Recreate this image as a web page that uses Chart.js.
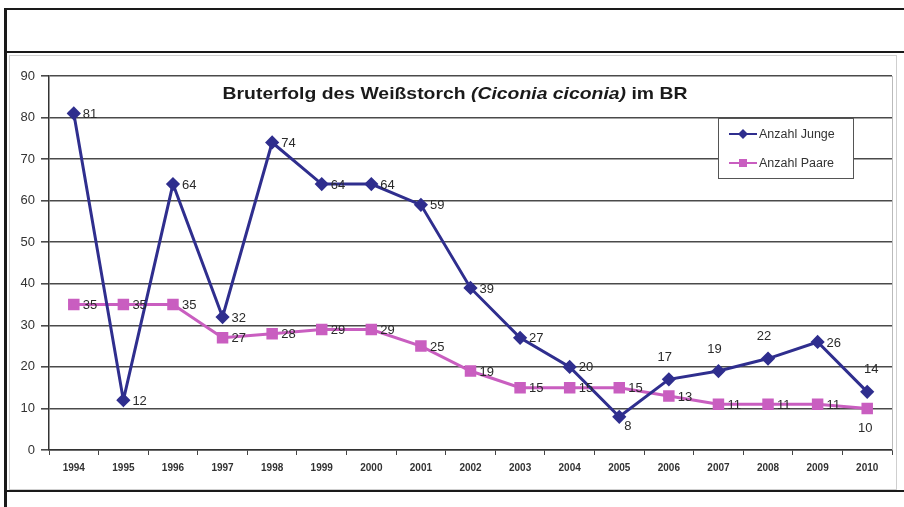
<!DOCTYPE html>
<html>
<head>
<meta charset="utf-8">
<script src="https://cdn.jsdelivr.net/npm/chart.js@4/dist/chart.umd.min.js"></script>
<style>
  body { margin: 0; background: #fff; width: 904px; height: 507px; overflow: hidden; position: relative; font-family: Arial, "Liberation Sans", sans-serif; }
  .frame-left { position: absolute; left: 4px; top: 8px; width: 3px; height: 499px; background: #1a1a1a; }
  .frame-top { position: absolute; left: 4px; top: 8px; width: 900px; height: 2px; background: #1a1a1a; }
  .frame-mid { position: absolute; left: 4px; top: 51px; width: 900px; height: 2px; background: #1a1a1a; }
  .frame-bot { position: absolute; left: 4px; top: 490px; width: 900px; height: 2px; background: #1a1a1a; }
  .chart-box { position: absolute; left: 9px; top: 55px; width: 886px; height: 433px; border: 1px solid #cfcfcf; background: #fff; }
  canvas { position: absolute; left: 0; top: 0; }
</style>
</head>
<body>
<div class="frame-left"></div>
<div class="frame-top"></div>
<div class="frame-mid"></div>
<div class="chart-box"><canvas id="myChart" width="886" height="433"></canvas></div>
<div class="frame-bot"></div>
<script>
// Daten
const years = ['1994','1995','1996','1997','1998','1999','2000','2001','2002','2003','2004','2005','2006','2007','2008','2009','2010'];
const junge = [81, 12, 64, 32, 74, 64, 64, 59, 39, 27, 20, 8, 17, 19, 22, 26, 14];
const paare = [35, 35, 35, 27, 28, 29, 29, 25, 19, 15, 15, 15, 13, 11, 11, 11, 10];
const yTicks = [0, 10, 20, 30, 40, 50, 60, 70, 80, 90];

// wo die Zahl neben dem Punkt steht
const jungePlace = ['r','r','r','r','r','r','r','r','r','r','r','br','a','a','a','r','ar'];
const paarePlace = ['r','r','r','r','r','r','r','r','r','r','r','r','r','r','r','r','b'];

const navy = '#2f2e8e';
const pink = '#c95ec0';
const FONT = 'Arial, "Liberation Sans", sans-serif';

const valueLabels = {
  id: 'valueLabels',
  afterDatasetsDraw(chart) {
    const ctx = chart.ctx;
    ctx.save();
    ctx.font = '13px ' + FONT;
    ctx.fillStyle = '#2a2a2a';
    ctx.textBaseline = 'middle';
    [jungePlace, paarePlace].forEach((place, di) => {
      const meta = chart.getDatasetMeta(di);
      meta.data.forEach((pt, i) => {
        const v = chart.data.datasets[di].data[i];
        let x = pt.x, y = pt.y;
        ctx.textAlign = 'left';
        if (place[i] === 'r') { x += 9; y += 1; }
        else if (place[i] === 'a') { ctx.textAlign = 'center'; x -= 4; y -= 22; }
        else if (place[i] === 'ar') { ctx.textAlign = 'center'; x += 4; y -= 22; }
        else if (place[i] === 'b') { ctx.textAlign = 'center'; x -= 2; y += 20; }
        else if (place[i] === 'br') { x += 5; y += 10; }
        ctx.fillText(String(v), x, y);
      });
    });
    ctx.restore();
  }
};

const titleAndLegend = {
  id: 'titleAndLegend',
  afterDraw(chart) {
    const ctx = chart.ctx;
    const area = chart.chartArea;
    ctx.save();
    // rechter Rand der Zeichenfläche
    ctx.strokeStyle = '#bbb';
    ctx.lineWidth = 1;
    ctx.beginPath(); ctx.moveTo(area.right + 0.5, area.top); ctx.lineTo(area.right + 0.5, area.bottom); ctx.stroke();

    // Titel mit kursivem Teil, etwas breit gezogen wie im Original
    const parts = [
      ['Bruterfolg des Weißstorch ', 'bold'],
      ['(Ciconia ciconia)', 'italic bold'],
      [' im BR', 'bold']
    ];
    const stretch = 1.14;
    let total = 0;
    parts.forEach(p => { ctx.font = p[1] + ' 17px ' + FONT; total += ctx.measureText(p[0]).width; });
    ctx.translate(445 - total * stretch / 2, 38);
    ctx.scale(stretch, 1);
    let x = 0;
    ctx.fillStyle = '#1a1a1a';
    ctx.textBaseline = 'middle';
    ctx.textAlign = 'left';
    parts.forEach(p => {
      ctx.font = p[1] + ' 17px ' + FONT;
      ctx.fillText(p[0], x, 0);
      x += ctx.measureText(p[0]).width;
    });
    ctx.setTransform(1, 0, 0, 1, 0, 0);

    // Legende
    const lx = 708, ly = 62, lw = 135, lh = 60;
    ctx.fillStyle = '#fff';
    ctx.fillRect(lx, ly, lw, lh);
    ctx.strokeStyle = '#555';
    ctx.lineWidth = 1;
    ctx.strokeRect(lx + 0.5, ly + 0.5, lw, lh);
    const items = [['Anzahl Junge', navy, 'rectRot'], ['Anzahl Paare', pink, 'rect']];
    ctx.font = '12.5px ' + FONT;
    ctx.textBaseline = 'middle';
    items.forEach((it, k) => {
      const yy = ly + 16 + k * 29;
      ctx.strokeStyle = it[1];
      ctx.lineWidth = 2;
      ctx.beginPath(); ctx.moveTo(lx + 11, yy); ctx.lineTo(lx + 39, yy); ctx.stroke();
      ctx.fillStyle = it[1];
      if (it[2] === 'rect') ctx.fillRect(lx + 21, yy - 4, 8, 8);
      else { ctx.beginPath(); ctx.moveTo(lx + 25, yy - 5); ctx.lineTo(lx + 30, yy); ctx.lineTo(lx + 25, yy + 5); ctx.lineTo(lx + 20, yy); ctx.closePath(); ctx.fill(); }
      ctx.fillStyle = '#333';
      ctx.fillText(it[0], lx + 41, yy + 1);
    });
    ctx.restore();
  }
};

new Chart('myChart', {
  type: 'line',
  data: {
    labels: years,
    datasets: [{
      label: 'Anzahl Junge',
      data: junge,
      borderColor: navy,
      backgroundColor: navy,
      borderWidth: 3,
      pointStyle: 'rectRot',
      pointRadius: 5,
      tension: 0
    }, {
      label: 'Anzahl Paare',
      data: paare,
      borderColor: pink,
      backgroundColor: pink,
      borderWidth: 3,
      pointStyle: 'rect',
      pointRadius: 6,
      tension: 0
    }]
  },
  options: {
    responsive: false,
    animation: false,
    layout: { autoPadding: false, padding: { top: 20, right: 4, bottom: 8, left: 0 } },
    plugins: { legend: { display: false }, title: { display: false }, tooltip: { enabled: false } },
    scales: {
      x: {
        offset: true,
        grid: { offset: true, drawOnChartArea: false, drawTicks: true, tickLength: 5, color: '#444', lineWidth: 1 },
        border: { color: '#333', width: 1.5 },
        ticks: { font: { family: 'Arial', size: 10, weight: 'bold' }, color: '#333', padding: 7, maxRotation: 0, autoSkip: false },
        afterFit(s) { s.height = 31; }
      },
      y: {
        min: 0, max: 90,
        afterBuildTicks(s) { s.ticks = yTicks.map(v => ({ value: v })); },
        grid: { color: '#4a4a4a', lineWidth: 1.6, tickLength: 8 },
        border: { color: '#333', width: 1.5 },
        ticks: { font: { family: 'Arial', size: 13 }, color: '#333', padding: 6 },
        afterFit(s) { s.width = 39; }
      }
    }
  },
  plugins: [valueLabels, titleAndLegend]
});
</script>
</body>
</html>
